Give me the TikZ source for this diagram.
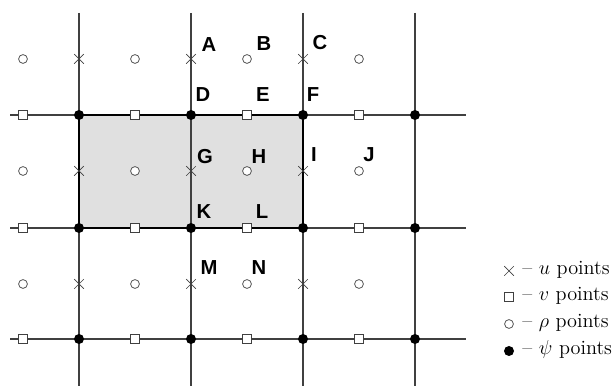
\documentclass[tikz,border=0pt]{standalone}
\usepackage{fontspec}
\newfontfamily\lblfont{Liberation Sans}
\usetikzlibrary{shapes.misc}

\begin{document}
\begin{tikzpicture}[x=0.025cm, y=-0.025cm,
    gridline/.style={draw=black!75, line width=0.8pt},
    upt/.style={cross out, draw=black!75, minimum size=0.22cm, inner sep=0pt, line width=0.5pt},
    vpt/.style={rectangle, draw=black!75, fill=white, minimum size=0.21cm, inner sep=0pt, line width=0.5pt},
    rhopt/.style={circle, draw=black!75, fill=white, minimum size=0.22cm, inner sep=0pt, line width=0.5pt},
    psipt/.style={circle, fill=black, minimum size=0.25cm, inner sep=0pt},
    lbl/.style={font=\lblfont\bfseries\Large, inner sep=0pt},
    legtext/.style={anchor=mid west, inner sep=0pt, font=\Large}
  ]
  \useasboundingbox (0,0) rectangle (614,386);

  % shaded control volume
  \fill[black!12] (79,115) rectangle (303,228);

  % grid lines
  \foreach \x in {79,191,303,415}
    \draw[gridline] (\x,13) -- (\x,386);
  \foreach \y in {115,228,339}
    \draw[gridline] (10,\y) -- (466,\y);
  \draw[line width=1.2pt] (79,115) rectangle (303,228);

  % rho points (cell centres)
  \foreach \x [count=\i] in {23,135,247,359}
    \foreach \y [count=\j] in {59,171,284}
      \node[rhopt] (rho-\i-\j) at (\x,\y) {};
  % u points
  \foreach \x [count=\i] in {79,191,303}
    \foreach \y [count=\j] in {59,171,284}
      \node[upt] (u-\i-\j) at (\x,\y) {};
  % v points
  \foreach \x [count=\i] in {23,135,247,359}
    \foreach \y [count=\j] in {115,228,339}
      \node[vpt] (v-\i-\j) at (\x,\y) {};
  % psi points
  \foreach \x [count=\i] in {79,191,303,415}
    \foreach \y [count=\j] in {115,228,339}
      \node[psipt] (psi-\i-\j) at (\x,\y) {};

  % letters
  \node[lbl] (A) at (209,45) {A};
  \node[lbl] (B) at (264,44) {B};
  \node[lbl] (C) at (320,43) {C};
  \node[lbl] (D) at (203,95) {D};
  \node[lbl] (E) at (263,95) {E};
  \node[lbl] (F) at (313,95) {F};
  \node[lbl] (G) at (205,157) {G};
  \node[lbl] (H) at (259,157) {H};
  \node[lbl] (I) at (314,155) {I};
  \node[lbl] (J) at (369,155) {J};
  \node[lbl] (K) at (204,212) {K};
  \node[lbl] (L) at (262,212) {L};
  \node[lbl] (M) at (209,268) {M};
  \node[lbl] (N) at (259,268) {N};

  % legend
  \node[upt] (leg-u) at (509,271) {};
  \node[legtext] (leg-u-txt) at (522,271) {-- $u$ points};
  \node[vpt] (leg-v) at (509,297) {};
  \node[legtext] (leg-v-txt) at (522,297) {-- $v$ points};
  \node[rhopt] (leg-rho) at (509,324) {};
  \node[legtext] (leg-rho-txt) at (522,324) {-- $\rho$ points};
  \node[psipt] (leg-psi) at (509,351) {};
  \node[legtext] (leg-psi-txt) at (522,351) {-- $\psi$ points};
\end{tikzpicture}
\end{document}
